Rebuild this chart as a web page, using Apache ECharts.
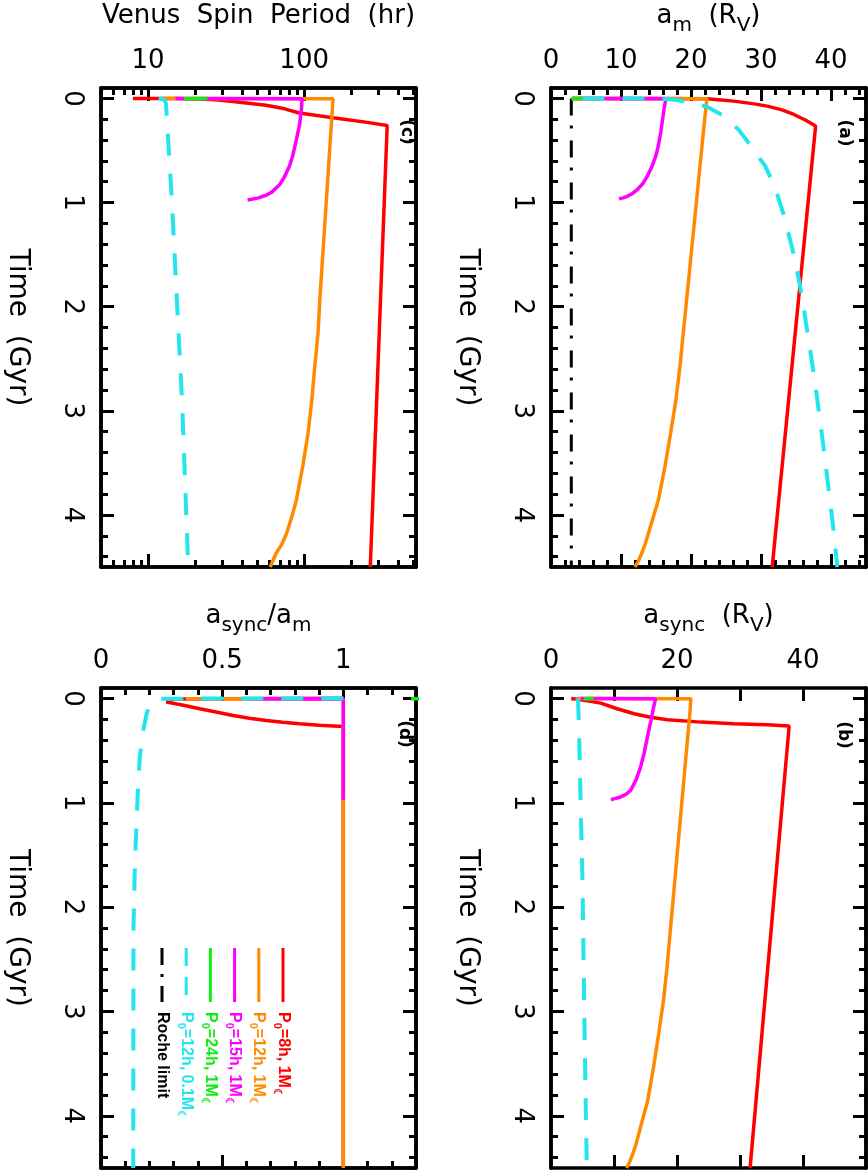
<!DOCTYPE html>
<html>
<head>
<meta charset="utf-8">
<script src="https://cdn.jsdelivr.net/npm/echarts@6/dist/echarts.min.js"></script>
<style>
html, body { margin: 0; padding: 0; background: #fff; }
#main { width: 868px; height: 1170px; }
</style>
</head>
<body>
<div id="main"></div>
<script>
// time axis (Gyr), shared by all four panels
var timeTicks = [0, 1, 2, 3, 4];
var timeMinor = [0.2, 0.4, 0.6, 0.8, 1.2, 1.4, 1.6, 1.8, 2.2, 2.4, 2.6, 2.8, 3.2, 3.4, 3.6, 3.8, 4.2, 4.4];

// (c) Venus spin period (hr), pairs are [time, period]
var spinTicks = [10, 100];
var spinMinor = [5, 6, 7, 8, 9, 20, 30, 40, 50, 60, 70, 80, 90, 200, 300, 400, 500];
var spinRed = [[0, 8], [0.002, 15], [0.006, 22], [0.015, 28], [0.03, 35], [0.065, 57], [0.1, 75], [0.14, 93], [0.185, 153], [0.23, 253], [0.26, 340], [4.5, 265]];
var spinOrange = [[0, 12], [0.004, 153], [0.02, 153], [1.93, 126], [2.25, 122.7], [2.57, 117], [2.89, 112], [3.21, 106], [3.53, 98], [3.86, 89], [4.0, 84], [4.18, 77], [4.28, 72], [4.37, 66], [4.44, 63], [4.5, 60.5]];
var spinMagenta = [[0, 15], [0.003, 97], [0.1, 96], [0.25, 93.5], [0.4, 89], [0.55, 84.5], [0.65, 80.5], [0.75, 75], [0.83, 69.5], [0.9, 62], [0.93, 57], [0.955, 51], [0.968, 46], [0.975, 43.4]];
var spinGreen = [[0, 24], [0.003, 17]];
var spinCyan = [[0, 11.7], [0.01, 12.6], [0.04, 13.0], [0.1, 13.1], [0.97, 14.2], [1.93, 15.3], [2.89, 16.5], [4.5, 18.1]];

// (a) moon orbit a_m (R_V)
var amTicks = [0, 10, 20, 30, 40];
var amMinor = [2, 4, 6, 8, 12, 14, 16, 18, 22, 24, 26, 28, 32, 34, 36, 38, 42, 44];
var rocheLimit = [[0, 2.9], [4.5, 2.9]];
var amRed = [[0, 3], [0.001, 15], [0.003, 22.3], [0.01, 23.5], [0.026, 26.1], [0.05, 28.8], [0.074, 30.9], [0.11, 33], [0.154, 34.7], [0.21, 36.4], [0.266, 37.8], [4.5, 31.6]];
var amOrange = [[0, 3], [0.003, 22.3], [0.1, 22.1], [1.93, 19.38], [2.25, 18.9], [2.57, 18.43], [2.89, 17.86], [3.21, 17.1], [3.53, 16.29], [3.86, 15.33], [4.0, 14.7], [4.18, 13.9], [4.28, 13.45], [4.37, 12.95], [4.44, 12.5], [4.5, 12.0]];
var amMagenta = [[0, 3], [0.003, 16.4], [0.106, 16.14], [0.33, 15.67], [0.45, 15.35], [0.555, 14.96], [0.65, 14.45], [0.747, 13.76], [0.82, 13.1], [0.875, 12.33], [0.91, 11.7], [0.94, 10.9], [0.955, 10.3], [0.965, 9.71]];
var amGreen = [[0, 4.7], [0.004, 2.9]];
var amCyan = [[0, 4.5], [0.002, 12], [0.008, 17], [0.03, 19.4], [0.08, 22.3], [0.17, 24.7], [0.3, 26.8], [0.46, 28.6], [0.65, 30.6], [0.85, 32.0], [1.13, 33.3], [1.45, 34.5], [1.77, 35.5], [2.1, 36.3], [2.67, 37.6], [3.28, 38.8], [3.83, 39.8], [4.17, 40.4], [4.5, 40.9]];

// (d) a_sync / a_m
var ratioTicks = [0, 0.5, 1];
var ratioMinor = [0.1, 0.2, 0.3, 0.4, 0.6, 0.7, 0.8, 0.9, 1.1, 1.2];
var ratioRed = [[0, 1], [0.002, 0.5], [0.005, 0.3], [0.035, 0.27], [0.065, 0.34], [0.099, 0.407], [0.13, 0.475], [0.163, 0.545], [0.19, 0.612], [0.211, 0.682], [0.228, 0.75], [0.243, 0.819], [0.256, 0.9], [0.268, 1], [4.5, 1]];
var ratioOrange = [[0, 1], [0.002, 0.35], [0.005, 1], [4.5, 1]];
var ratioMagenta = [[0, 1], [0.002, 0.62], [0.005, 1], [0.97, 1]];
var ratioGreen = [[0, 1.6], [0.003, 1.28]];
var ratioCyan = [[0, 1], [0.002, 0.3], [0.004, 0.243], [0.02, 0.222], [0.05, 0.209], [0.1, 0.196], [0.147, 0.188], [0.31, 0.174], [0.56, 0.16], [0.945, 0.151], [1.58, 0.14], [2.2, 0.134], [4.5, 0.133]];

// (b) a_sync (R_V)
var asyncTicks = [10, 20, 30, 40];
var asyncLabels = [0, 20, 40];
var asyncRed = [[0, 3.2], [0.02, 5.5], [0.045, 7.9], [0.099, 10.5], [0.147, 13.2], [0.18, 15.8], [0.204, 18.5], [0.227, 23.8], [0.243, 29.0], [0.252, 34.3], [0.265, 37.8], [4.5, 31.6]];
var asyncOrange = [[0, 4.1], [0.003, 22.2], [0.1, 22.1], [1.93, 19.38], [2.25, 18.9], [2.57, 18.43], [2.89, 17.86], [3.21, 17.1], [3.53, 16.29], [3.86, 15.33], [4.0, 14.7], [4.18, 13.9], [4.28, 13.45], [4.37, 12.95], [4.44, 12.5], [4.5, 12.0]];
var asyncMagenta = [[0, 4.75], [0.003, 16.6], [0.08, 16.3], [0.2, 15.9], [0.37, 15.3], [0.52, 14.8], [0.66, 14.2], [0.78, 13.5], [0.88, 12.65], [0.92, 11.9], [0.95, 10.8], [0.97, 9.5]];
var asyncGreen = [[0, 6.8], [0.003, 5.2]];
var asyncCyan = [[0, 4.1], [0.03, 4.3], [0.3, 4.45], [1.0, 4.7], [1.7, 4.98], [3.24, 5.34], [4.5, 5.68]];

// legend of panel (d)
var legendLabels = ['P0=8h, 1M', 'P0=12h, 1M', 'P0=15h, 1M', 'P0=24h, 1M', 'P0=12h, 0.1M', 'Roche limit'];

var FONT = '"DejaVu Sans", sans-serif';
var RED = '#ff0000', ORANGE = '#ff8a00', MAGENTA = '#ff00ff', GREEN = '#10ee10', CYAN = '#22e6ee';

function solid(c) { return {color: c, width: 3.5, type: 'solid'}; }
var dashed = {color: CYAN, width: 4, type: [22, 18]};
var dashDot = {color: '#000', width: 3, type: [17, 10, 3, 12]};

var nameRich = {
    n: {fontFamily: FONT, fontSize: 26, color: '#000', lineHeight: 40, verticalAlign: 'middle'},
    s: {fontFamily: FONT, fontSize: 20, color: '#000', lineHeight: 20, verticalAlign: 'bottom'}
};

var timeScale = {type: 'value', min: -0.1, max: 4.5, inverse: true};

var panels = [
    {   // (c)
        left: 101, top: 88, height: 479,
        scale: {type: 'log', logBase: 10, min: 5, max: 520},
        ticks: spinTicks, minor: spinMinor, labels: spinTicks,
        name: '{n|Venus  Spin  Period  (hr)}',
        tag: '(c)', tagAt: [406, 132],
        lines: [[spinRed, solid(RED)], [spinOrange, solid(ORANGE)], [spinMagenta, solid(MAGENTA)], [spinGreen, solid(GREEN)], [spinCyan, dashed]]
    },
    {   // (a)
        left: 551, top: 88, height: 479,
        scale: {type: 'value', min: 0, max: 45},
        ticks: amTicks, minor: amMinor, labels: amTicks,
        name: '{n|a}{s|m}{n|  (R}{s|V}{n|)}',
        tag: '(a)', tagAt: [844, 133],
        lines: [[rocheLimit, dashDot], [amRed, solid(RED)], [amOrange, solid(ORANGE)], [amMagenta, solid(MAGENTA)], [amGreen, solid(GREEN)], [amCyan, dashed]]
    },
    {   // (d)
        left: 101, top: 688, height: 480,
        scale: {type: 'value', min: 0, max: 1.3},
        ticks: ratioTicks, minor: ratioMinor, labels: ratioTicks,
        name: '{n|a}{s|sync}{n|/a}{s|m}',
        tag: '(d)', tagAt: [404, 734],
        lines: [[ratioRed, solid(RED)], [ratioOrange, solid(ORANGE)], [ratioMagenta, solid(MAGENTA)], [ratioGreen, solid(GREEN)], [ratioCyan, dashed]]
    },
    {   // (b)
        left: 551, top: 688, height: 480,
        scale: {type: 'value', min: 0, max: 50},
        ticks: asyncTicks, minor: null, labels: asyncLabels,
        name: '{n|a}{s|sync}{n|  (R}{s|V}{n|)}',
        tag: '(b)', tagAt: [843, 735],
        lines: [[asyncRed, solid(RED)], [asyncOrange, solid(ORANGE)], [asyncMagenta, solid(MAGENTA)], [asyncGreen, solid(GREEN)], [asyncCyan, dashed]]
    }
];

// one axis (a side of the box); labels only on top and left
function axis(g, pos, scale, ticks, len, labels, labelExtra, extra) {
    var label = {show: false};
    if (labels) {
        label = Object.assign({show: true, customValues: labels, color: '#000', fontFamily: FONT, fontSize: 26, margin: 14}, labelExtra || {});
    }
    return Object.assign({
        gridIndex: g,
        position: pos,
        splitLine: {show: false},
        axisLine: {show: true, onZero: false, lineStyle: {color: '#000', width: 3.5}},
        axisTick: {show: true, inside: true, length: len, customValues: ticks, lineStyle: {color: '#000', width: 3}},
        axisLabel: label
    }, scale, extra || {});
}

var grids = [], xAxes = [], yAxes = [], series = [], graphics = [];

panels.forEach(function (p, g) {
    grids.push({left: p.left, top: p.top, width: 315, height: p.height});

    var xi = xAxes.length;
    xAxes.push(axis(g, 'top', p.scale, p.ticks, 13, p.labels, null, {
        name: p.name, nameLocation: 'middle', nameGap: 52,
        nameTextStyle: {rich: nameRich}
    }));
    if (p.minor) xAxes.push(axis(g, 'top', p.scale, p.minor, 7));
    xAxes.push(axis(g, 'bottom', p.scale, p.ticks, 13));
    if (p.minor) xAxes.push(axis(g, 'bottom', p.scale, p.minor, 7));

    var yi = yAxes.length;
    yAxes.push(axis(g, 'left', timeScale, timeTicks, 13, timeTicks, {rotate: -90, margin: 16}, {
        name: 'Time  (Gyr)', nameLocation: 'middle', nameGap: 70, nameRotate: -90,
        nameTextStyle: {fontFamily: FONT, fontSize: 28, color: '#000'}
    }));
    yAxes.push(axis(g, 'left', timeScale, timeMinor, 7));
    yAxes.push(axis(g, 'right', timeScale, timeTicks, 13));
    yAxes.push(axis(g, 'right', timeScale, timeMinor, 7));

    p.lines.forEach(function (l) {
        series.push({
            type: 'line',
            xAxisIndex: xi,
            yAxisIndex: yi,
            data: l[0].map(function (d) { return [d[1], d[0]]; }),
            showSymbol: false,
            symbol: 'none',
            clip: true,
            silent: true,
            lineStyle: l[1]
        });
    });

    graphics.push({
        type: 'text', x: p.tagAt[0], y: p.tagAt[1], rotation: -Math.PI / 2,
        style: {text: p.tag, fill: '#000', fontFamily: FONT, fontWeight: 'bold', fontSize: 17, align: 'center', verticalAlign: 'middle'}
    });
});

// legend drawn inside panel (d), rotated like the rest of the figure
var legendColors = [RED, ORANGE, MAGENTA, GREEN, CYAN, '#000'];
var legendDash = [null, null, null, null, [18, 11], [17, 9, 3, 9]];
legendLabels.forEach(function (txt, i) {
    var x = 283 - i * 24.2;
    var c = legendColors[i];
    graphics.push({
        type: 'line', shape: {x1: x, y1: 948, x2: x, y2: 1002},
        style: {stroke: c, lineWidth: 3, lineDash: legendDash[i]}
    });
    var rich = {
        b: {fill: c, fontFamily: '"Liberation Sans", sans-serif', fontWeight: 'bold', fontSize: 16, lineHeight: 22, verticalAlign: 'middle'},
        u: {fill: c, fontFamily: '"Liberation Sans", sans-serif', fontWeight: 'bold', fontSize: 11, lineHeight: 11, verticalAlign: 'bottom'}
    };
    var text;
    if (txt.charAt(0) === 'P') {
        // P0=..., 1M -> P with subscript 0, M with lunar subscript
        text = '{b|P}{u|0}{b|' + txt.slice(2) + '}{u|☾}';
    } else {
        text = '{b|' + txt + '}';
    }
    graphics.push({
        type: 'text', x: x, y: 1012, rotation: -Math.PI / 2,
        style: {text: text, rich: rich, fill: c, align: 'left', verticalAlign: 'middle'}
    });
});

var chart = echarts.init(document.getElementById('main'));
chart.setOption({
    animation: false,
    backgroundColor: '#fff',
    grid: grids,
    xAxis: xAxes,
    yAxis: yAxes,
    series: series,
    graphic: graphics
});
</script>
</body>
</html>
